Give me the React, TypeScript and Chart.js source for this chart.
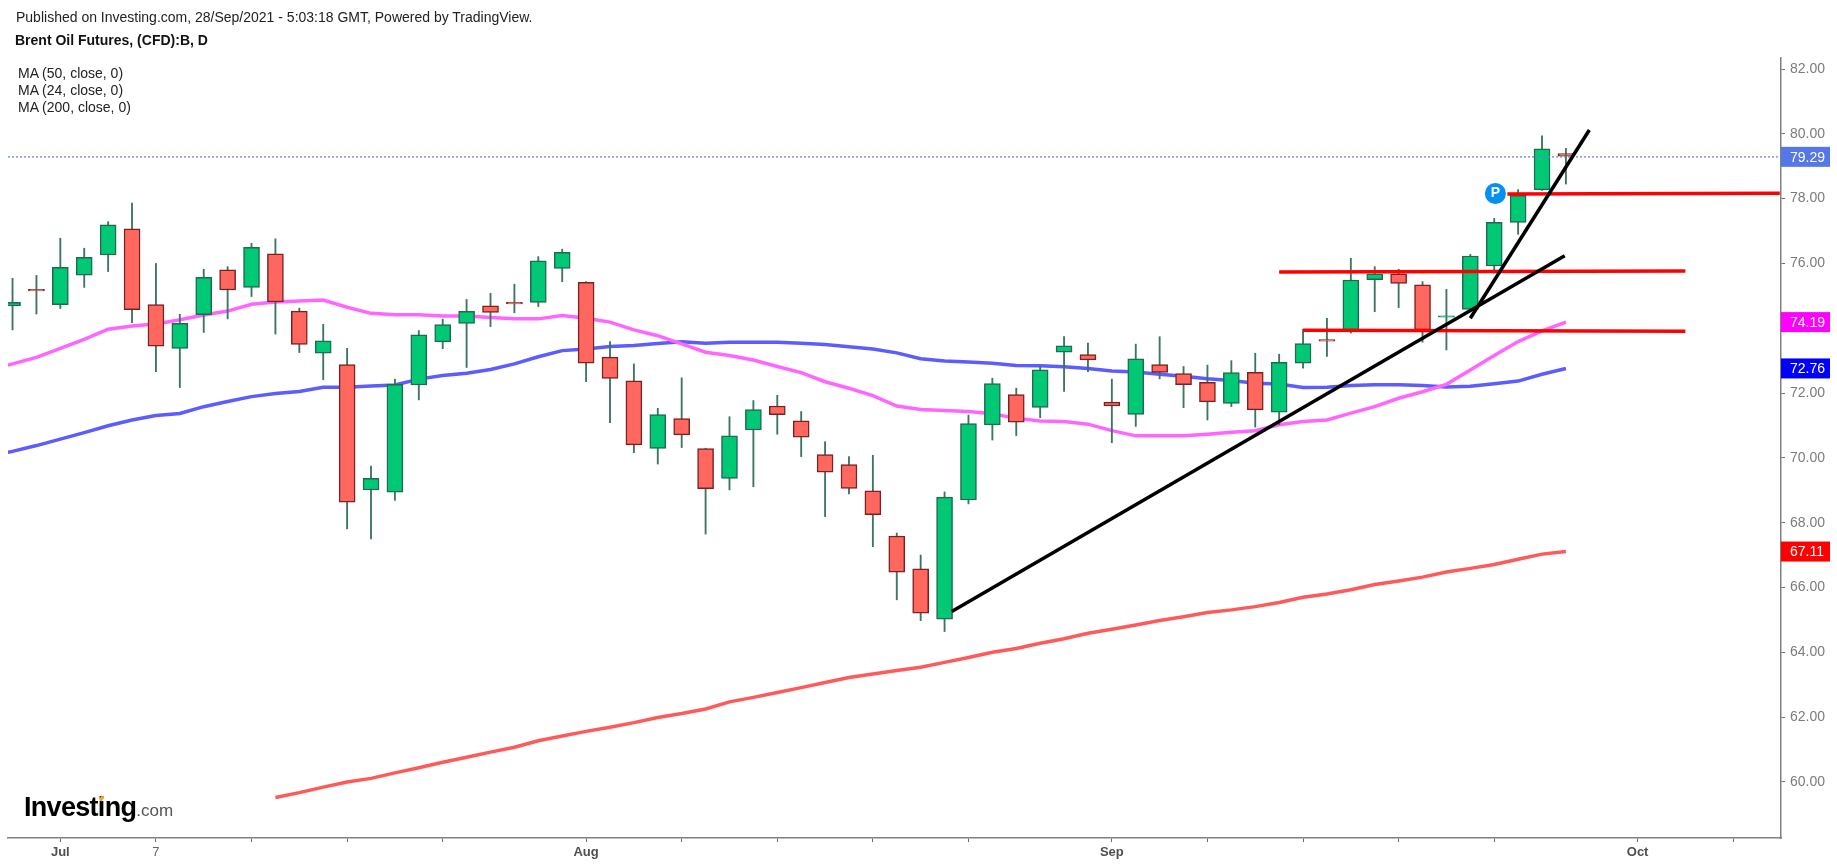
import React, { useEffect, useRef } from "react";
import { Chart, registerables } from "chart.js";

Chart.register(...registerables);

// daily bars, bar 0 is 29 Jun 2021, bar 65 is 28 Sep 2021
const opens = [
  74.69, 75.2, 74.73, 75.64, 76.26, 77.07, 74.73, 73.38, 74.42, 75.8, 75.26, 76.3, 74.53, 73.23, 72.88, 69.01, 68.94,
  72.25, 73.58, 74.15, 74.69, 74.8, 74.8, 75.85, 75.42, 73.11, 72.38, 70.29, 71.21, 70.29, 69.37, 70.86, 71.6, 71.14,
  70.1, 69.79, 68.98, 67.59, 66.58, 65.02, 68.7, 71.02, 71.95, 71.56, 73.26, 73.19, 71.72, 71.34, 72.88, 72.6, 72.33,
  71.68, 72.64, 71.41, 72.92, 73.65, 73.95, 75.5, 75.68, 75.34, 74.34, 74.58, 75.92, 77.27, 78.27, 79.39,
];
const highs = [
  75.54, 75.63, 76.78, 76.47, 77.29, 77.86, 76.0, 74.43, 75.82, 75.9, 76.62, 76.76, 74.62, 74.12, 73.38, 69.75, 72.43,
  73.93, 74.28, 74.89, 75.08, 75.36, 76.21, 76.44, 75.44, 73.59, 72.9, 71.53, 72.47, 70.3, 71.27, 71.77, 71.93, 71.43,
  70.5, 70.04, 70.08, 67.68, 67.0, 68.95, 71.32, 72.46, 72.15, 72.82, 73.74, 73.54, 72.43, 73.51, 73.74, 72.82, 72.86,
  73.0, 73.23, 73.2, 73.97, 74.31, 76.16, 75.9, 75.82, 75.44, 75.2, 76.28, 77.39, 78.28, 79.94, 79.55,
];
const lows = [
  73.95, 74.44, 74.61, 75.26, 75.75, 74.17, 72.66, 72.17, 73.87, 74.29, 74.98, 73.82, 73.25, 72.41, 67.81, 67.5, 68.69,
  71.79, 73.37, 72.79, 74.05, 74.48, 74.67, 75.44, 72.35, 71.09, 70.16, 69.81, 70.32, 67.65, 69.01, 69.11, 70.73, 70.04,
  68.19, 68.89, 67.26, 65.62, 64.98, 64.64, 68.58, 70.55, 70.69, 71.24, 72.05, 72.66, 70.47, 70.97, 72.44, 71.55, 71.17,
  71.58, 70.95, 71.02, 72.77, 73.13, 73.85, 74.51, 74.64, 73.57, 73.33, 74.56, 75.7, 76.9, 78.25, 78.45,
];
const closes = [
  74.8, 75.15, 75.88, 76.19, 77.19, 74.57, 73.45, 74.15, 75.57, 75.18, 76.5, 74.81, 73.5, 73.61, 68.63, 69.37, 72.27,
  73.8, 74.11, 74.52, 74.49, 74.75, 76.08, 76.34, 72.92, 72.45, 70.4, 71.34, 70.71, 69.05, 70.68, 71.49, 71.33, 70.64,
  69.56, 69.06, 68.25, 66.47, 65.21, 68.79, 71.06, 72.29, 71.1, 72.72, 73.46, 73.02, 71.6, 73.06, 72.64, 72.26, 71.73,
  72.63, 71.48, 72.95, 73.53, 73.6, 75.49, 75.68, 75.38, 73.95, 74.38, 76.23, 77.27, 78.1, 79.54, 79.31,
];

// moving averages, first value belongs to the bar in the *Start constant
const ma24Start = -1;
const ma24 = [
  72.72, 72.9, 73.1, 73.38, 73.66, 73.97, 74.07, 74.13, 74.26, 74.41, 74.53, 74.74, 74.81, 74.84, 74.87, 74.65, 74.46,
  74.42, 74.42, 74.38, 74.38, 74.33, 74.29, 74.29, 74.39, 74.31, 74.19, 73.95, 73.77, 73.52, 73.26, 73.16, 73.02,
  72.82, 72.63, 72.35, 72.15, 71.92, 71.6, 71.49, 71.46, 71.43, 71.36, 71.22, 71.14, 71.12, 71.04, 70.84, 70.68, 70.68,
  70.68, 70.73, 70.79, 70.84, 71.02, 71.12, 71.17, 71.38, 71.58, 71.84, 72.04, 72.27, 72.71, 73.16, 73.59, 73.92, 74.19,
];
const ma50Start = -1;
const ma50 = [
  70.05, 70.2, 70.38, 70.58, 70.78, 70.99, 71.17, 71.31, 71.37, 71.58, 71.74, 71.89, 71.99, 72.05, 72.18, 72.18, 72.22,
  72.25, 72.43, 72.54, 72.61, 72.73, 72.9, 73.12, 73.31, 73.36, 73.44, 73.47, 73.53, 73.58, 73.54, 73.57, 73.57, 73.57,
  73.54, 73.5, 73.43, 73.36, 73.24, 73.06, 72.99, 72.96, 72.92, 72.85, 72.84, 72.81, 72.76, 72.68, 72.65, 72.58, 72.52,
  72.44, 72.39, 72.3, 72.28, 72.17, 72.18, 72.23, 72.26, 72.26, 72.23, 72.19, 72.21, 72.29, 72.37, 72.58, 72.76,
];
const ma200Start = 11;
const ma200 = [
  59.52, 59.67, 59.84, 60.0, 60.11, 60.28, 60.44, 60.61, 60.76, 60.92, 61.07, 61.27, 61.42, 61.56, 61.69, 61.83, 61.99,
  62.11, 62.25, 62.47, 62.61, 62.76, 62.91, 63.07, 63.22, 63.33, 63.44, 63.54, 63.69, 63.84, 64.0, 64.12, 64.28, 64.42,
  64.59, 64.71, 64.84, 64.98, 65.1, 65.23, 65.31, 65.41, 65.54, 65.7, 65.8, 65.93, 66.09, 66.2, 66.32, 66.48, 66.59,
  66.71, 66.87, 67.03, 67.11,
];

// drawn trend lines and levels, [bar, price]
const trendA = [[39.3, 65.26], [64.95, 76.24]];
const trendB = [[61.0, 74.31], [65.98, 80.12]];
const levelA = [[62.55, 78.14], [73.95, 78.17]];
const levelB = [[53, 75.74], [70, 75.77]];
const levelC = [[54, 73.94], [70, 73.91]];
const pinPoint = [[62.05, 78.16]];

const lastPrice = 79.29;
const tagValues = [79.29, 74.19, 72.76, 67.11];
const tagColors = ["#5577e8", "#ff00ff", "#0000ff", "#ff0000"];

const yTicks = [60, 62, 64, 66, 68, 70, 72, 74, 76, 78, 80, 82];
const xTicks = [2, 6, 10, 14, 18, 24, 28, 32, 36, 40, 46, 50, 54, 58, 62, 68, 72];
const xTickLabels = ["Jul", "7", "", "", "", "Aug", "", "", "", "", "Sep", "", "", "", "", "Oct", ""];
const maLegend = ["MA (50, close, 0)", "MA (24, close, 0)", "MA (200, close, 0)"];

const FONT = '"Liberation Sans", Arial, sans-serif';
const UP = "#00c875";
const DOWN = "#ff675f";

const series = (start: number, values: number[]) => values.map((y, i) => ({ x: start + i, y }));
const pairs = (list: number[][]) => list.map(([x, y]) => ({ x, y }));

const bodies = (up: boolean) =>
  opens
    .map((o, i) => ({ x: i, y: [o, closes[i]], up: closes[i] >= o }))
    .filter((b) => b.up === up)
    .map(({ x, y }) => ({ x, y }));

const lineSet = (data: any[], color: string, width: number, order: number) => ({
  type: "line",
  data,
  borderColor: color,
  borderWidth: width,
  pointRadius: 0,
  tension: 0,
  order,
  borderCapStyle: "butt",
});

const overlayPlugin = {
  id: "overlay",
  afterDraw(chart: any) {
    const { ctx, scales } = chart;
    const right = chart.chartArea.right;
    ctx.save();
    ctx.font = `14px ${FONT}`;
    ctx.textBaseline = "middle";
    tagValues.forEach((v, i) => {
      const y = scales.y.getPixelForValue(v);
      ctx.fillStyle = tagColors[i];
      ctx.fillRect(right, y - 10, 49, 20);
      ctx.fillStyle = "#ffffff";
      ctx.textAlign = "left";
      ctx.fillText(v.toFixed(2), right + 9, y + 1);
    });
    // letter on the published-idea pin
    ctx.font = `bold 14px ${FONT}`;
    ctx.textAlign = "center";
    ctx.fillText("P", scales.x.getPixelForValue(pinPoint[0][0]), scales.y.getPixelForValue(pinPoint[0][1]));
    ctx.restore();
  },
};

const textStyle: React.CSSProperties = {
  position: "absolute",
  whiteSpace: "nowrap",
  fontFamily: FONT,
  fontSize: 14,
  lineHeight: "17px",
  color: "#222",
};

export default function App() {
  const canvasRef = useRef<HTMLCanvasElement>(null);

  useEffect(() => {
    if (!canvasRef.current) return;
    const chart = new Chart(canvasRef.current, {
      type: "bar",
      data: {
        datasets: [
          lineSet(series(ma24Start, ma24), "#ff66ff", 3.5, 6),
          lineSet(series(ma50Start, ma50), "#5c5cff", 3.5, 6),
          lineSet(series(ma200Start, ma200), "#ff5a5a", 3.5, 6),
          {
            type: "bar",
            data: highs.map((h, i) => ({ x: i, y: [lows[i], h] })),
            backgroundColor: "#3c7560",
            barThickness: 1.2,
            grouped: false,
            order: 5,
          },
          {
            type: "bar",
            data: bodies(true),
            backgroundColor: UP,
            borderColor: "#1f6b50",
            borderWidth: 1.5,
            borderSkipped: false,
            barThickness: 16,
            grouped: false,
            order: 4,
          },
          {
            type: "bar",
            data: bodies(false),
            backgroundColor: DOWN,
            borderColor: "#7a2222",
            borderWidth: 1.5,
            borderSkipped: false,
            barThickness: 16,
            grouped: false,
            order: 4,
          },
          {
            ...lineSet(pairs([[-0.19, lastPrice], [74, lastPrice]]), "#5f84ea", 1.2, 3),
            borderDash: [2, 2],
          },
          lineSet(pairs(levelA), "#ff0000", 3.5, 2),
          lineSet(pairs(levelB), "#ff0000", 3.5, 2),
          lineSet(pairs(levelC), "#ff0000", 3.5, 2),
          lineSet(pairs(trendA), "#000000", 3.5, 1),
          lineSet(pairs(trendB), "#000000", 3.5, 1),
          {
            type: "line",
            data: pairs(pinPoint),
            showLine: false,
            pointRadius: 10.5,
            pointBackgroundColor: "#0091f5",
            pointBorderWidth: 0,
            order: 0,
          },
        ] as any,
      },
      options: {
        responsive: false,
        animation: false,
        layout: { autoPadding: false, padding: { left: 8, top: 58, right: 0, bottom: 0 } },
        plugins: { legend: { display: false }, tooltip: { enabled: false } },
        scales: {
          x: {
            type: "linear",
            offset: false,
            min: -0.19,
            max: 74,
            grid: { offset: false, drawOnChartArea: false, drawTicks: true, tickLength: 4, tickColor: "#707070" },
            border: { color: "#808080", width: 1.5 },
            afterBuildTicks: (scale: any) => {
              scale.ticks = xTicks.map((value) => ({ value }));
            },
            afterFit: (scale: any) => {
              scale.height = 28;
            },
            ticks: {
              autoSkip: false,
              maxRotation: 0,
              padding: 3,
              color: (ctx: any) => (ctx.tick?.label === "7" ? "#666666" : "#4f4f4f"),
              font: (ctx: any) => ({
                family: FONT,
                size: 13,
                weight: ctx.tick?.label === "7" ? "normal" : "bold",
              }),
              callback: (value: any) => xTickLabels[xTicks.indexOf(value)] ?? "",
            },
          },
          y: {
            position: "right",
            min: 58.27,
            max: 82.34,
            grid: { drawOnChartArea: false, drawTicks: true, tickLength: 4, tickColor: "#707070" },
            border: { color: "#808080", width: 1.5 },
            afterBuildTicks: (scale: any) => {
              scale.ticks = yTicks.map((value) => ({ value }));
            },
            afterFit: (scale: any) => {
              scale.width = 56;
            },
            ticks: {
              padding: 5,
              color: "#7b7b7b",
              font: { family: FONT, size: 14 },
              callback: (value: any) => Number(value).toFixed(2),
            },
          },
        },
      } as any,
      plugins: [overlayPlugin],
    });
    return () => {
      chart.destroy();
    };
  }, []);

  return (
    <div style={{ position: "absolute", left: 0, top: 0, width: 1837, height: 866, background: "#fff", overflow: "hidden" }}>
      <canvas ref={canvasRef} width={1837} height={866} style={{ display: "block" }} />
      <div style={{ ...textStyle, left: 16, top: 9 }}>
        Published on Investing.com, 28/Sep/2021 - 5:03:18 GMT, Powered by TradingView.
      </div>
      <div style={{ ...textStyle, left: 15, top: 32, fontWeight: "bold", color: "#111" }}>
        Brent Oil Futures, (CFD):B, D
      </div>
      {maLegend.map((label, i) => (
        <div key={label} style={{ ...textStyle, left: 18, top: 65 + i * 17 }}>
          {label}
        </div>
      ))}
      <div style={{ ...textStyle, left: 24, top: 790, lineHeight: "34px", fontSize: 27, fontWeight: "bold", color: "#000", letterSpacing: -0.7 }}>
        Investing
        <span style={{ fontSize: 17, fontWeight: "normal", color: "#555", letterSpacing: 0 }}>.com</span>
      </div>
      <div style={{ position: "absolute", left: 100, top: 796, width: 3, height: 5, background: "#f5a623", transform: "rotate(25deg)" }} />
    </div>
  );
}
